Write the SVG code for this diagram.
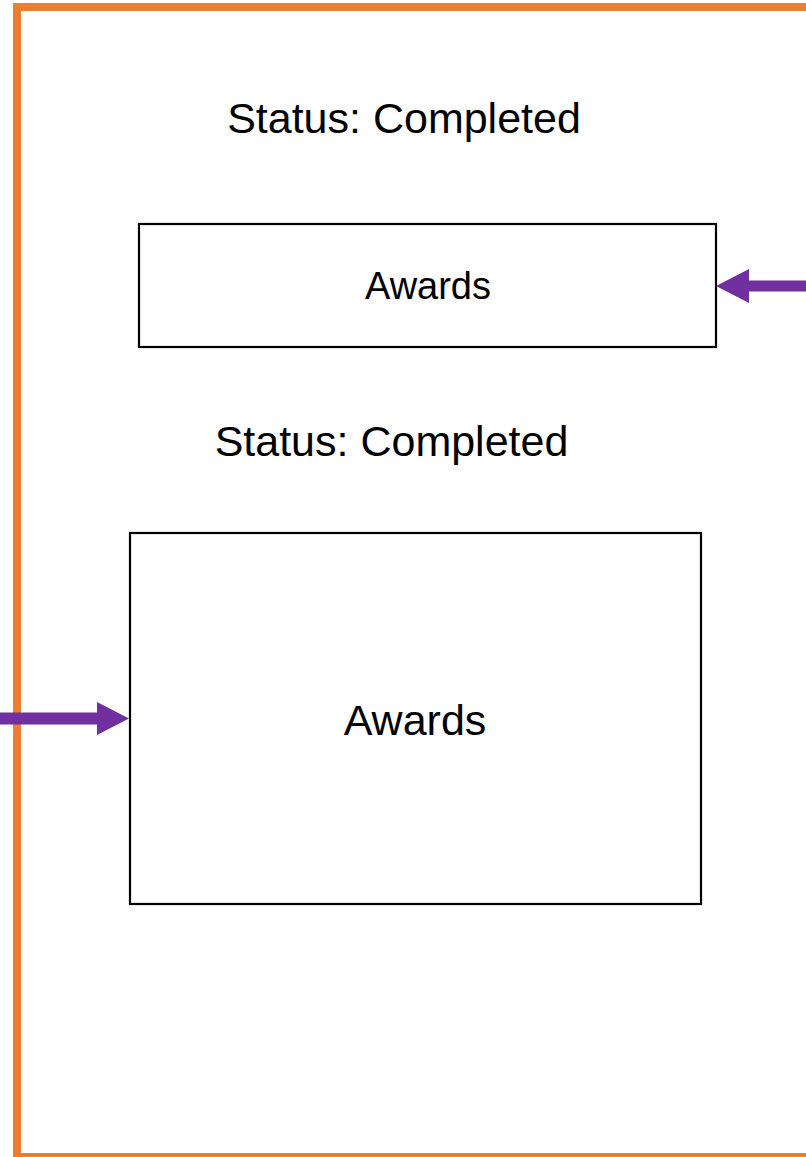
<svg xmlns="http://www.w3.org/2000/svg" width="806" height="1157" viewBox="0 0 806 1157">
  <style>
    .frame { fill: none; stroke: #ED7D31; stroke-width: 8; }
    .box { fill: #FFFFFF; stroke: #000000; stroke-width: 2.2; }
    .lbl { font-family: "Liberation Sans", Arial, sans-serif; fill: #000000; text-anchor: middle; }
    .conn { fill: #7030A0; stroke: none; }
  </style>
  <rect width="806" height="1157" fill="#FFFFFF"/>
  <g id="frame">
    <rect class="frame" x="17" y="7" width="900" height="1150"/>
  </g>
  <g id="status1">
    <text class="lbl" x="404" y="133" font-size="43">Status: Completed</text>
  </g>
  <g id="awards1">
    <rect class="box" x="139" y="224" width="577" height="123"/>
    <text class="lbl" x="428" y="299" font-size="38">Awards</text>
  </g>
  <g id="status2">
    <text class="lbl" x="391.5" y="456" font-size="43">Status: Completed</text>
  </g>
  <g id="awards2">
    <rect class="box" x="130" y="533" width="571" height="371"/>
    <text class="lbl" x="415" y="735" font-size="43">Awards</text>
  </g>
  <g id="connectors">
    <polygon class="conn" points="806,280.5 749,280.5 749,269 716,286 749,303 749,291.5 806,291.5"/>
    <polygon class="conn" points="0,712.5 97,712.5 97,702 129,718.5 97,735 97,724.5 0,724.5"/>
  </g>
</svg>
